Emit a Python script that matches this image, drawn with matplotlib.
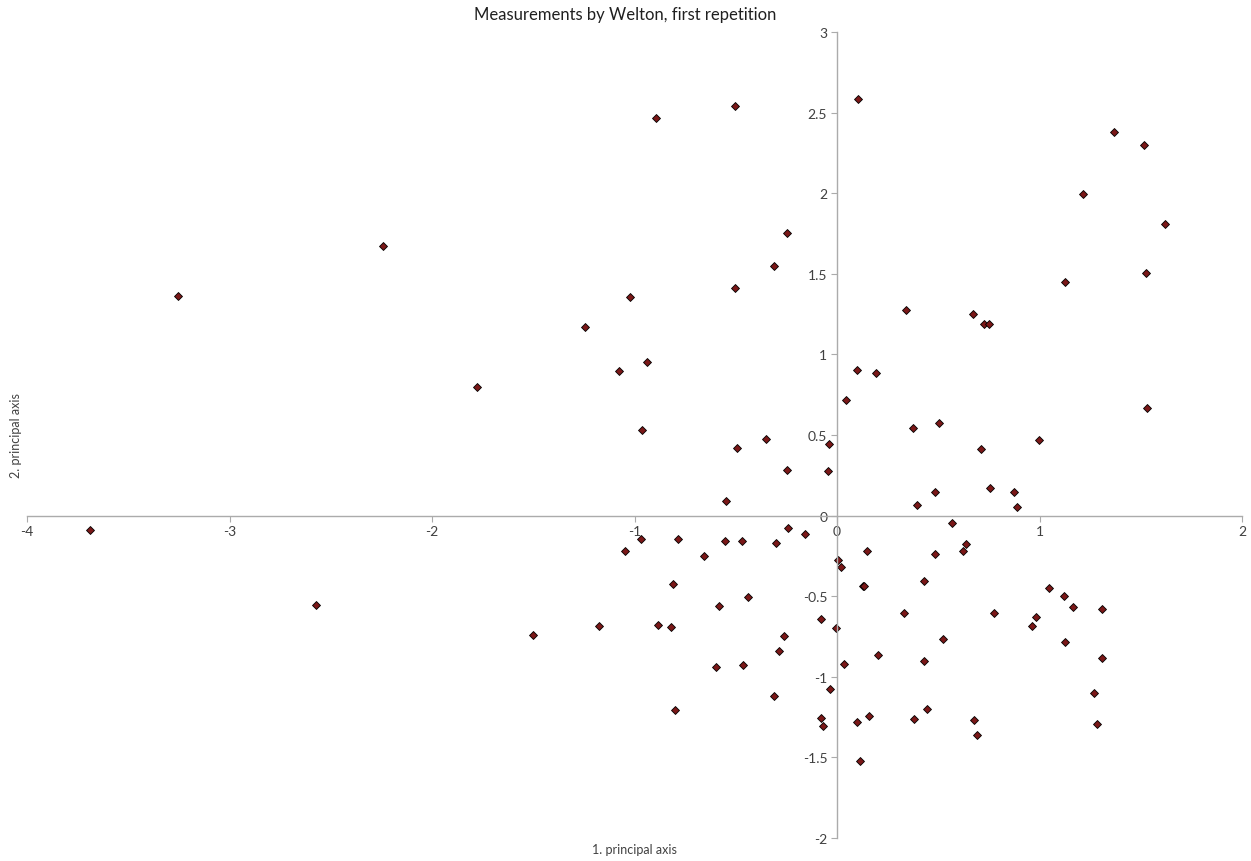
import numpy as np
import matplotlib
matplotlib.use('Agg')
import matplotlib.pyplot as plt
from matplotlib.ticker import FormatStrFormatter, MultipleLocator

plt.rcParams['font.family'] = ['Lato', 'DejaVu Sans']
plt.rcParams['axes.unicode_minus'] = False

# scores on the first two principal axes
pc1 = [-3.689, -3.254, -2.242, -1.778, -2.573, -1.501,
       -0.894, -0.502, -0.245, -0.311, -0.505, -1.024,
       -1.243, -1.078, -0.937, -0.963, 0.044, -0.494, -0.351, -0.038, -0.245, -0.044, -0.547,
       0.105, 1.370, 1.516, 1.216, 1.621, 1.528, 1.128,
       0.341, 0.673, 0.724, 0.749, 0.100, 0.191, 1.531, 0.375, 0.505, 0.996, 0.710,
       0.756, 0.484, 0.874, 0.395, 0.889,
       -1.177, -1.045, -0.966, -0.787, -0.657, -0.552, -0.468, -0.303, -0.242, -0.160,
       0.007, 0.020, -0.810, -0.440, -0.581, -0.884, -0.820, -0.077, -0.003, -0.262,
       -0.288, 0.036, -0.596, -0.464, -0.035, -0.310, -0.800, -0.081, -0.069,
       0.568, 0.147, 0.486, 0.639, 0.624, 0.127, 0.135, 0.428, 0.333, 0.775,
       1.047, 1.119, 1.167, 1.307, 0.981, 0.965, 0.522, 1.128, 0.201, 0.431, 1.310,
       1.271, 0.444, 0.158, 0.100, 0.380, 0.678, 1.285, 0.693, 0.115]
pc2 = [-0.087, 1.365, 1.675, 0.800, -0.552, -0.738,
       2.469, 2.542, 1.756, 1.551, 1.412, 1.354,
       1.168, 0.898, 0.955, 0.531, 0.715, 0.420, 0.478, 0.442, 0.285, 0.279, 0.089,
       2.583, 2.380, 2.297, 1.993, 1.809, 1.505, 1.447,
       1.278, 1.251, 1.187, 1.191, 0.901, 0.883, 0.670, 0.546, 0.577, 0.470, 0.411,
       0.170, 0.147, 0.147, 0.064, 0.054,
       -0.684, -0.219, -0.145, -0.145, -0.250, -0.155, -0.155, -0.172, -0.076, -0.112,
       -0.275, -0.320, -0.426, -0.502, -0.562, -0.676, -0.693, -0.643, -0.699, -0.746,
       -0.837, -0.920, -0.941, -0.928, -1.077, -1.121, -1.206, -1.257, -1.303,
       -0.045, -0.217, -0.240, -0.174, -0.221, -0.436, -0.438, -0.405, -0.602, -0.606,
       -0.451, -0.500, -0.565, -0.581, -0.629, -0.686, -0.767, -0.784, -0.866, -0.900, -0.881,
       -1.102, -1.197, -1.241, -1.280, -1.261, -1.270, -1.290, -1.359, -1.520]

title = "Measurements by Welton, first repetition"
xlabel = "1. principal axis"
ylabel = "2. principal axis"

fig = plt.figure(figsize=(12.51, 8.62), dpi=100)
ax = fig.add_axes([27/1251, 23/862, 1215/1251, 806/862])

ax.plot(pc1, pc2, linestyle='none', marker='D', markersize=3.7,
        markerfacecolor='#7A1818', markeredgecolor='black', markeredgewidth=0.6)

ax.set_xlim(-4, 2)
ax.set_ylim(-2, 3)
ax.xaxis.set_major_locator(MultipleLocator(1))
ax.yaxis.set_major_locator(MultipleLocator(0.5))
ax.xaxis.set_major_formatter(FormatStrFormatter('%g'))
ax.yaxis.set_major_formatter(FormatStrFormatter('%g'))

# axes cross at the origin, like a spreadsheet chart
ax.spines['left'].set_position(('data', 0))
ax.spines['bottom'].set_position(('data', 0))
ax.spines['top'].set_visible(False)
ax.spines['right'].set_visible(False)
for s in ['left', 'bottom']:
    ax.spines[s].set_color('#ABABAB')
    ax.spines[s].set_linewidth(1.0)
ax.tick_params(axis='both', direction='out', length=4, width=0.8, color='#ABABAB',
               labelcolor='#404040', labelsize=10, pad=3)

ax.xaxis.set_label_coords(0.5, -0.006)
ax.yaxis.set_label_coords(-0.004, 0.5)
ax.set_xlabel(xlabel, fontsize=9, color='#404040')
ax.set_ylabel(ylabel, fontsize=9, color='#404040')

fig.text(0.5, 1 - 15/862, title, ha='center', va='center', fontsize=12, color='#202020')

fig.savefig('out.png', dpi=100)
